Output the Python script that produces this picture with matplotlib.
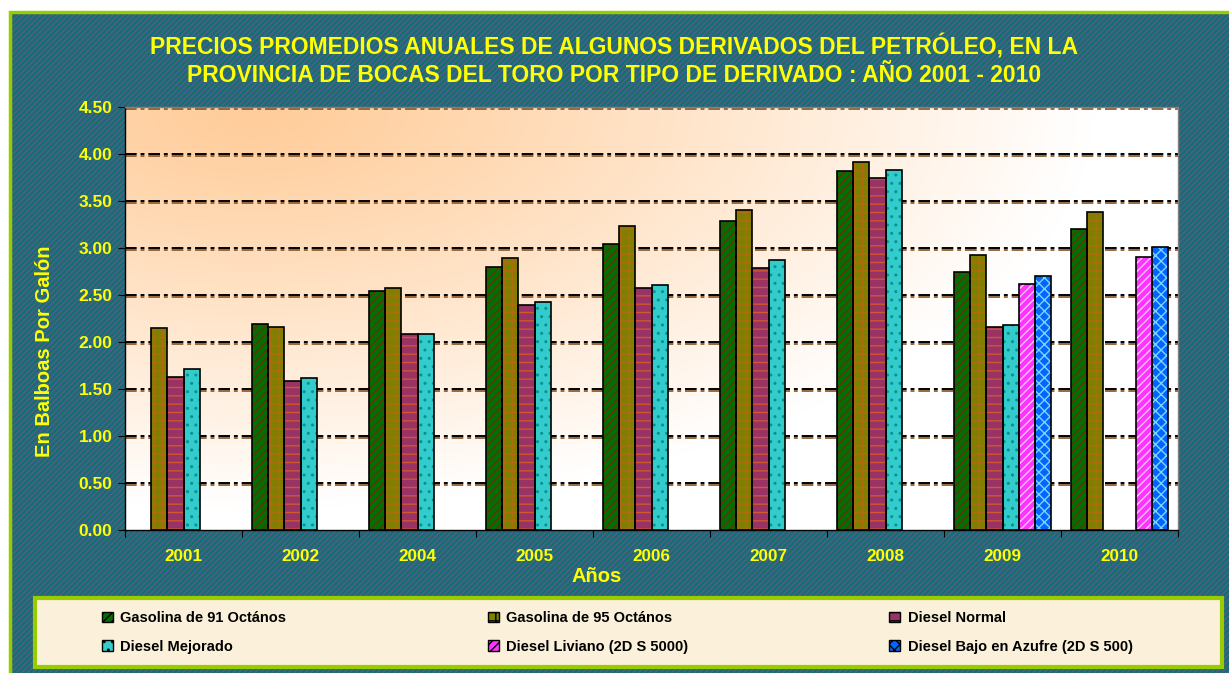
import numpy as np
import matplotlib
matplotlib.use("Agg")
import matplotlib.pyplot as plt
from matplotlib.patches import Rectangle, Patch
import matplotlib.patheffects as pe

years = ["2001", "2002", "2004", "2005", "2006", "2007", "2008", "2009", "2010"]
series_names = ["Gasolina de 91 Octános", "Gasolina de 95 Octános", "Diesel Normal",
                "Diesel Mejorado", "Diesel Liviano (2D S 5000)", "Diesel Bajo en Azufre (2D S 500)"]
nan = np.nan
gas91 = [nan, 2.19, 2.54, 2.80, 3.04, 3.29, 3.82, 2.75, 3.20]
gas95 = [2.15, 2.16, 2.57, 2.89, 3.23, 3.40, 3.91, 2.93, 3.38]
diesel_normal = [1.63, 1.59, 2.09, 2.39, 2.57, 2.79, 3.75, 2.16, nan]
diesel_mejorado = [1.71, 1.62, 2.08, 2.43, 2.61, 2.87, 3.83, 2.18, nan]
diesel_liviano = [nan, nan, nan, nan, nan, nan, nan, 2.62, 2.90]
diesel_bajo = [nan, nan, nan, nan, nan, nan, nan, 2.70, 3.01]
yticks = [0.0, 0.5, 1.0, 1.5, 2.0, 2.5, 3.0, 3.5, 4.0, 4.5]

series = [gas91, gas95, diesel_normal, diesel_mejorado, diesel_liviano, diesel_bajo]
faces = ["#007000", "#808000", "#993366", "#33CCCC", "#FF33FF", "#0066FF"]
hatch_cols = ["#6E2A14", "#B06A10", "#D0582A", "#0E8F8F", "#FFC8FF", "#7FD4FF"]
hatches = ["////", "++", "--", "..", "////", "xxx"]

plt.rcParams['font.family'] = ['Liberation Sans', 'DejaVu Sans']
plt.rcParams['hatch.linewidth'] = 1.0

W, H = 1229, 673
fig = plt.figure(figsize=(W / 100, H / 100), dpi=100, facecolor="white")

# Background striped frame
bg = Rectangle((10 / W, -0.01), 1.0, 1 - 12 / H + 0.01, transform=fig.transFigure,
               facecolor="#127070", edgecolor="#5A5A8C", hatch="//////", lw=0, zorder=0)
fig.patches.append(bg)
bgb = Rectangle((10 / W, -0.01), 1.0, 1 - 12 / H + 0.01, transform=fig.transFigure,
                facecolor="none", edgecolor="#99CC00", lw=2.5, zorder=1)
fig.patches.append(bgb)

# Legend box
lb = Rectangle((35 / W, 1 - 667 / H), (1222 - 35) / W, (667 - 598) / H, transform=fig.transFigure,
               facecolor="#FBF1DA", edgecolor="#99CC00", lw=3, zorder=2)
fig.patches.append(lb)

ax = fig.add_axes([125 / W, 1 - 530 / H, (1178 - 125) / W, (530 - 107) / H])
ax.set_zorder(3)
ax.set_facecolor("white")

# Gradient background
gx = np.linspace(0, 1, 300)
gy = np.linspace(0, 1, 200)
GX, GY = np.meshgrid(gx, gy)
d = np.sqrt(((GX - 0.12) / 0.80) ** 2 + ((GY - 1.0) / 0.95) ** 2)
t = np.clip(d, 0, 1) ** 1.1
c0 = np.array([255, 204, 153]) / 255.0
c1 = np.array([255, 255, 255]) / 255.0
img = c0[None, None, :] * (1 - t[..., None]) + c1[None, None, :] * t[..., None]
ax.imshow(img, extent=[0, 1, 0, 1], origin="lower", transform=ax.transAxes,
          aspect="auto", zorder=0)

x = np.arange(len(years))
nser = len(series)
bw = 0.137
for i, vals in enumerate(series):
    pos = x + (i - (nser - 1) / 2) * bw
    ax.bar(pos, vals, bw, color=faces[i], edgecolor=hatch_cols[i], hatch=hatches[i],
           lw=0, zorder=3)
    ax.bar(pos, vals, bw, color="none", edgecolor="black", lw=1.2, zorder=4)

ax.set_xlim(-0.5, len(years) - 0.5)
ax.set_ylim(0, 4.5)

for yv in yticks[1:]:
    ax.axhline(yv, color="black", lw=1.4, dashes=(6, 2, 2, 2), zorder=2,
               path_effects=[pe.SimpleLineShadow(offset=(0, -1.2), shadow_color="#8B5A2B", alpha=0.9),
                             pe.Normal()])

ax.set_yticks(yticks)
ax.set_yticklabels([f"{v:.2f}" for v in yticks])
ax.set_xticks(np.arange(len(years) + 1) - 0.5)
ax.set_xticklabels([])
ax.set_xticks(x, minor=True)
ax.set_xticklabels(years, minor=True)
ax.tick_params(axis="x", which="major", length=5, direction="out", color="black")
ax.tick_params(axis="x", which="minor", length=0, pad=14, labelcolor="#FFFF00", labelsize=12.3)
ax.tick_params(axis="y", length=5, direction="out", labelcolor="#FFFF00", labelsize=12.5, pad=4)
for lbl in ax.get_xticklabels(minor=True) + ax.get_yticklabels():
    lbl.set_fontweight("bold")

for s in ["left", "bottom"]:
    ax.spines[s].set_color("black")
    ax.spines[s].set_linewidth(1.0)
for s in ["top", "right"]:
    ax.spines[s].set_color("#808080")
    ax.spines[s].set_linewidth(1.0)

fig.text(0.5, 1 - 34 / H,
         "PRECIOS PROMEDIOS ANUALES DE ALGUNOS DERIVADOS DEL PETRÓLEO, EN LA\n"
         "PROVINCIA DE BOCAS DEL TORO POR TIPO DE DERIVADO : AÑO 2001 - 2010",
         ha="center", va="top", color="#FFFF00", fontsize=16.5, fontweight="bold",
         linespacing=1.3)
fig.text(597 / W, 1 - 577 / H, "Años", ha="center", va="center", color="#FFFF00",
         fontsize=14.5, fontweight="bold")
fig.text(45 / W, 1 - 351 / H, "En Balboas Por Galón", ha="center", va="center",
         rotation=90, color="#FFFF00", fontsize=14.5, fontweight="bold")

handles = [Patch(facecolor=faces[i], edgecolor="black", hatch=hatches[i], lw=1.0)
           for i in range(nser)]
order = [0, 3, 1, 4, 2, 5]
leg = fig.legend([handles[i] for i in order], [series_names[i] for i in order],
                 ncol=3, loc="upper left", bbox_to_anchor=(92 / W, 1 - 601 / H),
                 frameon=False, prop={"weight": "bold", "size": 10.5},
                 handlelength=0.75, handleheight=0.75, handletextpad=0.5,
                 columnspacing=13.8, labelspacing=1.0, borderpad=0.2)
for txt in leg.get_texts():
    txt.set_color("black")
leg.set_zorder(5)

fig.savefig("out.png", dpi=100, facecolor="white")
